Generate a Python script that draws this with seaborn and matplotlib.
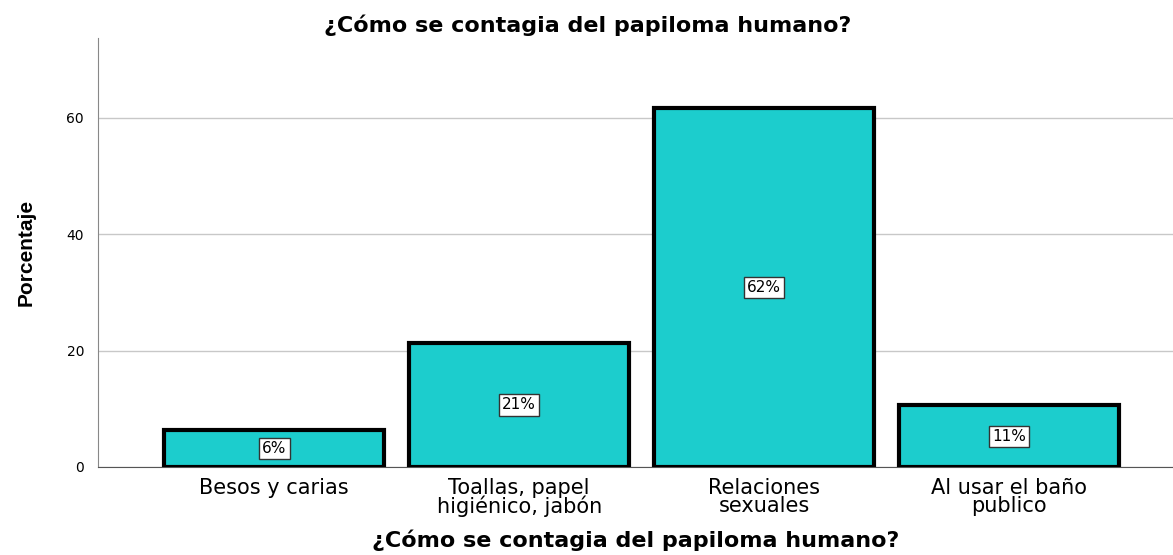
import pandas as pd
import matplotlib
matplotlib.use('Agg')
import matplotlib.pyplot as plt
import seaborn as sns

categorias = ['Besos y carias', 'Toallas, papel\nhigiénico, jabón', 'Relaciones\nsexuales', 'Al usar el baño\npublico']
porcentajes = [6.4, 21.3, 61.7, 10.6]
etiquetas = ['6%', '21%', '62%', '11%']
titulo = '¿Cómo se contagia del papiloma humano?'

df = pd.DataFrame({'Categoria': categorias, 'Porcentaje': porcentajes})

sns.set_style('white')
plt.rcParams['font.family'] = ['DejaVu Sans']
plt.rcParams['text.color'] = 'black'
plt.rcParams['axes.labelcolor'] = 'black'
plt.rcParams['xtick.color'] = 'black'
plt.rcParams['ytick.color'] = 'black'

fig = plt.figure(figsize=(11.73, 5.55), dpi=100)
ax = fig.add_axes([0.0835, 0.1586, 0.9165, 0.7729])

sns.barplot(data=df, x='Categoria', y='Porcentaje', color='#1ccdcd', saturation=1,
            width=0.9, edgecolor='black', linewidth=3, ax=ax, zorder=3)

ax.bar_label(ax.containers[0], labels=etiquetas, label_type='center', fontsize=11,
             bbox=dict(boxstyle='square,pad=0.2', facecolor='white', edgecolor='#333333', linewidth=1))

ax.set_ylim(0, 73.7)
ax.set_xlim(-0.72, 3.67)
ax.set_yticks([0, 20, 40, 60])
ax.yaxis.grid(True, color='#c8c8c8', linewidth=1, zorder=0)
ax.set_axisbelow(True)

for s in ['top', 'right']:
    ax.spines[s].set_visible(False)
ax.spines['left'].set_color('#888888')
ax.spines['bottom'].set_color('#555555')
ax.tick_params(axis='y', length=0, labelsize=10, pad=10)
ax.tick_params(axis='x', length=0, labelsize=15, pad=8)
for t in ax.get_xticklabels():
    t.set_linespacing(0.85)

ax.set_title(titulo, fontsize=16, fontweight='bold', x=0.456, pad=4)
ax.set_xlabel(titulo, fontsize=16, fontweight='bold', labelpad=9)
ax.set_ylabel('Porcentaje', fontsize=15, fontweight='bold', family=['Liberation Sans'], labelpad=22)

fig.savefig('out.png', dpi=100)
